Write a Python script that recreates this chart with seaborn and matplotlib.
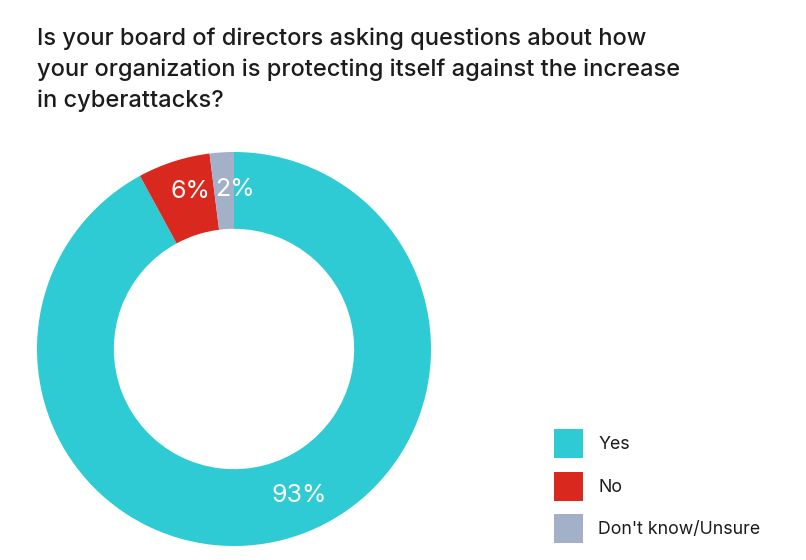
import numpy as np
import matplotlib
matplotlib.use("Agg")
import matplotlib.pyplot as plt
import seaborn as sns
from matplotlib.patches import Patch

# Survey responses
categories = ["Yes", "No", "Don't know/Unsure"]
shares = [93, 6, 2]
labels = ["93%", "6%", "2%"]
colors = ["#2ECBD4", "#D9291E", "#A3B1C8"]

title = ("Is your board of directors asking questions about how\n"
         "your organization is protecting itself against the increase\n"
         "in cyberattacks?")

sns.set_theme(style="white")
plt.rcParams["font.family"] = ["Inter", "DejaVu Sans"]

W, H = 806, 560
fig = plt.figure(figsize=(W / 100, H / 100), dpi=100)
fig.patch.set_facecolor("white")

# Donut centred at (234, 349) px with outer radius 197 px
cx, cy, R = 234, 349, 197
ax = fig.add_axes([(cx - R) / W, (H - cy - R) / H, 2 * R / W, 2 * R / H])

wedges, _ = ax.pie(shares, colors=colors, startangle=90, counterclock=False,
                   radius=1.0, wedgeprops=dict(width=0.39, linewidth=0))
ax.set_xlim(-1, 1)
ax.set_ylim(-1, 1)
ax.set_aspect("equal")
ax.axis("off")

# Percentage labels placed along the ring (angle clockwise from top, radius)
label_pos = {"93%": (156.0, 0.815), "6%": (-15.5, 0.83), "2%": (0.5, 0.81)}
for lab in labels:
    ang, r = label_pos[lab]
    t = np.deg2rad(ang)
    ax.text(r * np.sin(t), r * np.cos(t), lab, ha="center", va="center",
            color="white", fontsize=18)

fig.text(37 / W, 1 - 27 / H, title, ha="left", va="top", fontsize=17,
         fontweight="medium", color="#1c1c1c", linespacing=1.5)

handles = [Patch(facecolor=c, edgecolor="none") for c in colors]
fig.legend(handles, categories, loc="upper left",
           bbox_to_anchor=(547 / W, 1 - 422 / H), frameon=False,
           fontsize=12.8, handlelength=1.63, handleheight=2.13,
           handletextpad=0.85, labelspacing=0.76, borderaxespad=0,
           labelcolor="#1c1c1c")

fig.savefig("out.png", dpi=100, facecolor="white")
